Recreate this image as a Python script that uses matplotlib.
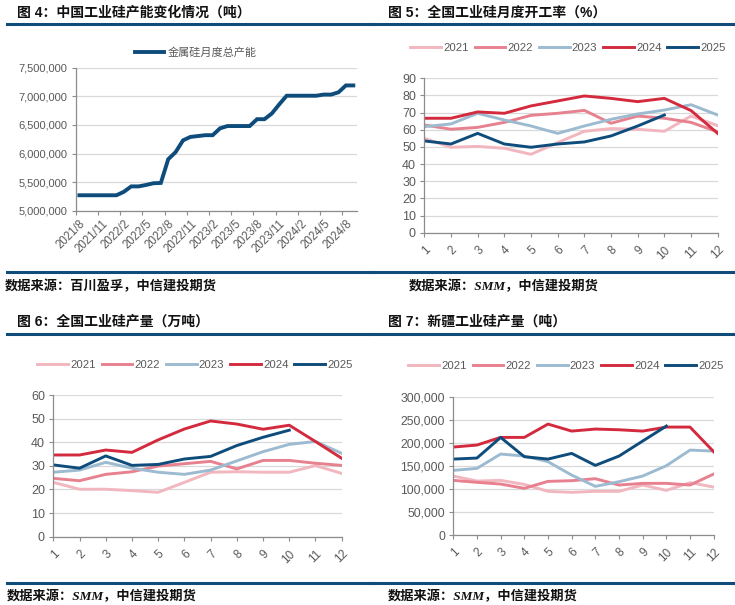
import matplotlib
matplotlib.use("Agg")
import matplotlib.pyplot as plt
from matplotlib.lines import Line2D
from matplotlib.ticker import FuncFormatter

plt.rcParams['font.family'] = ['Liberation Sans', 'Noto Sans CJK SC', 'DejaVu Sans']

W, H = 735, 605

# 图4：中国工业硅产能（吨），2021/8 - 2024/9 月度
cap_months = []
for yr, m0, m1 in [(2021, 8, 12), (2022, 1, 12), (2023, 1, 12), (2024, 1, 9)]:
    for m in range(m0, m1 + 1):
        cap_months.append(f'{yr}/{m}')
cap_values = [5270000, 5270000, 5270000, 5270000, 5270000, 5270000,
              5330000, 5425000, 5425000, 5450000, 5480000, 5485000,
              5900000, 6025000, 6230000, 6290000, 6305000, 6320000,
              6320000, 6440000, 6480000, 6480000, 6480000, 6480000,
              6600000, 6600000, 6700000, 6860000, 7010000, 7010000,
              7010000, 7010000, 7010000, 7030000, 7030000, 7070000,
              7190000, 7190000]

months = list(range(1, 13))
years = ['2021', '2022', '2023', '2024', '2025']
year_colors = ['#f2b6bf', '#e8818f', '#9dbbd0', '#d42a3e', '#0e4c7b']

# 图5：开工率（%）
rate = {
    '2021': [55.0, 49.8, 50.3, 49.2, 45.7, 52.5, 59.1, 60.7, 60.3, 59.1, 68.0, 62.4],
    '2022': [62.8, 60.3, 61.4, 64.3, 68.4, 69.6, 71.3, 63.8, 68.0, 66.7, 64.3, 58.8],
    '2023': [61.8, 63.4, 69.6, 65.7, 62.2, 57.9, 62.2, 66.1, 69.2, 71.5, 74.6, 68.6],
    '2024': [66.7, 66.7, 70.4, 69.6, 73.9, 76.8, 79.7, 78.3, 76.4, 78.3, 71.2, 57.9],
    '2025': [53.5, 51.7, 57.9, 51.7, 49.8, 51.7, 52.9, 56.4, 62.2, 68.6],
}

# 图6：全国产量（万吨）
output = {
    '2021': [23.0, 20.1, 20.1, 19.5, 18.8, 23.0, 27.3, 27.5, 27.3, 27.3, 30.1, 26.8],
    '2022': [24.7, 23.7, 26.4, 27.5, 29.9, 30.9, 31.9, 28.7, 32.3, 32.3, 31.1, 30.2],
    '2023': [27.3, 28.2, 31.5, 29.0, 27.3, 26.4, 28.2, 32.1, 36.0, 39.1, 40.3, 35.3],
    '2024': [34.6, 34.6, 36.7, 35.7, 41.0, 45.6, 49.0, 47.7, 45.5, 47.2, 40.3, 33.2],
    '2025': [30.4, 29.0, 34.2, 30.2, 30.6, 32.9, 34.0, 38.6, 42.1, 45.1],
}

# 图7：新疆产量（吨）
xinjiang = {
    '2021': [127900, 117000, 118500, 109800, 94700, 92500, 94700, 94700, 108400, 96800, 113500, 104000],
    '2022': [118500, 114200, 110500, 101200, 116300, 117800, 122100, 108400, 112000, 112000, 108400, 132200],
    '2023': [140200, 144500, 175600, 171200, 159000, 130000, 105500, 115600, 127900, 150300, 184200, 182000],
    '2024': [190800, 195100, 211700, 211700, 240600, 225400, 229800, 228300, 225400, 234100, 234100, 180600],
    '2025': [164700, 166900, 211700, 169800, 164700, 177000, 151000, 171200, 203800, 236300],
}

rule_color = '#0f4c7a'
tick_gray = '#595959'
axis_gray = '#8c8c8c'
grid_gray = '#d9d9d9'

fig = plt.figure(figsize=(W / 100, H / 100), dpi=100)


def px_axes(left, top, right, bottom):
    return fig.add_axes([left / W, 1 - bottom / H, (right - left) / W, (bottom - top) / H])


def rule(x0, x1, y):
    fig.add_artist(Line2D([x0 / W, x1 / W], [1 - y / H, 1 - y / H],
                          transform=fig.transFigure, color=rule_color, linewidth=2.2))


def put_text(x, y, s, **kw):
    fig.text(x / W, 1 - y / H, s, va='center', ha='left', **kw)


def style_axes(ax, ysize):
    for s in ['top', 'right']:
        ax.spines[s].set_visible(False)
    for s in ['left', 'bottom']:
        ax.spines[s].set_color(axis_gray)
        ax.spines[s].set_linewidth(0.9)
    ax.grid(axis='y', color=grid_gray, linewidth=0.9)
    ax.set_axisbelow(True)
    ax.tick_params(axis='both', colors=axis_gray, labelcolor=tick_gray, length=3, width=0.8)
    ax.tick_params(axis='y', labelsize=ysize, pad=3)


comma = FuncFormatter(lambda v, p: f'{int(v):,}')
title_kw = dict(fontsize=10, fontweight='bold', color='#111111',
                family=['Liberation Sans', 'Noto Sans CJK SC'])
note_kw = dict(fontsize=9.5, fontweight='bold', style='italic', color='#111111',
               family=['Liberation Serif', 'Noto Sans CJK SC'])

# ---------- 图4 ----------
put_text(17, 13, '图 4：中国工业硅产能变化情况（吨）', **title_kw)
rule(7, 370, 24)
rule(7, 370, 272.5)
put_text(5, 286, '数据来源：百川盈孚，中信建投期货', **note_kw)

ax1 = px_axes(75.7, 67.7, 357, 210.7)
xs = list(range(len(cap_months)))
ax1.plot(xs, cap_values, color='#0e4c7b', linewidth=2.8, label='金属硅月度总产能',
         solid_joinstyle='miter')
ax1.set_xlim(-0.5, len(cap_months) - 0.5)
ax1.set_ylim(5000000, 7500000)
ax1.set_yticks(range(5000000, 7500001, 500000))
ax1.yaxis.set_major_formatter(comma)
style_axes(ax1, 8)
ax1.set_xticks([x - 0.5 for x in xs[::3]], minor=False)
ax1.set_xticklabels([])
ax1.set_xticks(xs[::3], minor=True)
ax1.set_xticklabels(cap_months[::3], minor=True, rotation=45, ha='right',
                    rotation_mode='anchor', fontsize=8.3, color=tick_gray)
ax1.tick_params(axis='x', which='minor', length=0, pad=5)
ax1.legend(loc='center', bbox_to_anchor=(196 / W, 1 - 53 / H), bbox_transform=fig.transFigure,
           frameon=False, fontsize=8, labelcolor=tick_gray, handlelength=2.6, handletextpad=0.4)


def year_panel(ax, data, ylim, step, ysize, legend_xy, fmt=None):
    for yr, col in zip(years, year_colors):
        vals = data[yr]
        ax.plot(months[:len(vals)], vals, color=col, linewidth=2.1, label=yr)
    ax.set_xlim(1, 12)
    ax.set_ylim(*ylim)
    ax.set_yticks(range(ylim[0], ylim[1] + 1, step))
    if fmt is not None:
        ax.yaxis.set_major_formatter(fmt)
    style_axes(ax, ysize)
    ax.set_xticks(months)
    ax.set_xticklabels([str(m) for m in months], rotation=45, ha='right',
                       rotation_mode='anchor', fontsize=8.5)
    ax.tick_params(axis='x', pad=5)
    ax.legend(loc='center', bbox_to_anchor=(legend_xy[0] / W, 1 - legend_xy[1] / H),
              bbox_transform=fig.transFigure, ncol=5, frameon=False, fontsize=8.2,
              labelcolor=tick_gray, handlelength=2.7, handletextpad=0.2, columnspacing=0.5)


# ---------- 图5 ----------
put_text(388, 13, '图 5：全国工业硅月度开工率（%）', **title_kw)
rule(370, 735, 24)
rule(370, 735, 272.5)
put_text(409, 286, '数据来源：SMM，中信建投期货', **note_kw)
ax2 = px_axes(424.3, 78.3, 717.7, 232.7)
year_panel(ax2, rate, (0, 90), 10, 9, (568, 48))

# ---------- 图6 ----------
put_text(17, 322, '图 6：全国工业硅产量（万吨）', **title_kw)
rule(7, 370, 334)
rule(7, 370, 582.5)
put_text(7, 596, '数据来源：SMM，中信建投期货', **note_kw)
ax3 = px_axes(53.3, 395, 341.7, 536.7)
year_panel(ax3, output, (0, 60), 10, 9, (195, 365))

# ---------- 图7 ----------
put_text(388, 322, '图 7：新疆工业硅产量（吨）', **title_kw)
rule(370, 735, 334)
rule(370, 735, 582.5)
put_text(388, 596, '数据来源：SMM，中信建投期货', **note_kw)
ax4 = px_axes(453.3, 396.7, 713.7, 535)
year_panel(ax4, xinjiang, (0, 300000), 50000, 8.7, (566, 366), fmt=comma)

fig.savefig('out.png', dpi=100)
